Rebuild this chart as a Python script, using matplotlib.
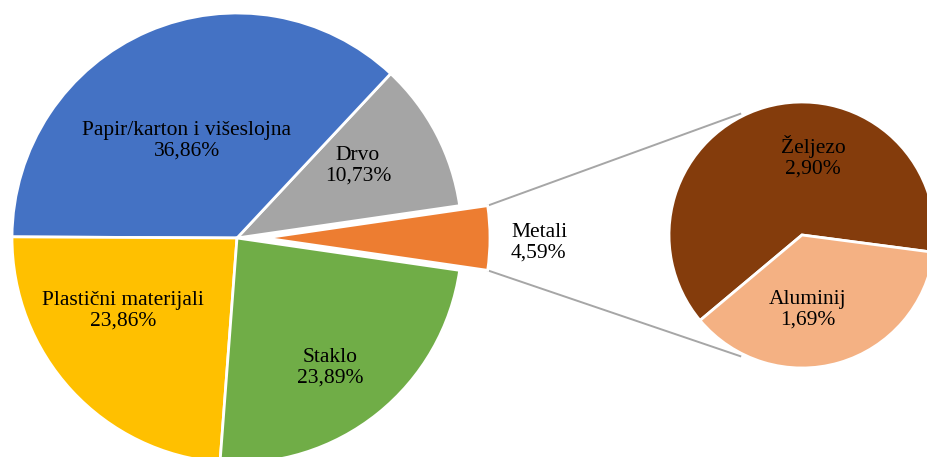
import numpy as np
import matplotlib.pyplot as plt

plt.rcParams['font.family'] = ['Liberation Serif', 'DejaVu Serif']

# main pie, counterclockwise starting with the split-off slice
main_labels = ['Metali', 'Drvo', 'Papir/karton i višeslojna', 'Plastični materijali', 'Staklo']
main_values = [4.59, 10.73, 36.86, 23.86, 23.89]
main_colors = ['#ED7D31', '#A5A5A5', '#4472C4', '#FFC000', '#70AD47']

# second pie (breakdown of Metali)
sub_labels = ['Željezo', 'Aluminij']
sub_values = [2.90, 1.69]
sub_colors = ['#843C0C', '#F4B183']

W, H = 927, 457
fig = plt.figure(figsize=(W / 100, H / 100), dpi=100)
ax = fig.add_axes([0, 0, 1, 1])

main_c = (237, H - 238)
main_r = 225
sub_c = (802, H - 235)
sub_r = 133

start = -main_values[0] / sum(main_values) * 360 / 2
wedges, _ = ax.pie(main_values, colors=main_colors, center=main_c, radius=main_r,
                   startangle=start, counterclock=True,
                   explode=[28, 0, 0, 0, 0],
                   wedgeprops=dict(edgecolor='white', linewidth=2))

sub_wedges, _ = ax.pie(sub_values, colors=sub_colors, center=sub_c, radius=sub_r,
                       startangle=-7.5, counterclock=True,
                       wedgeprops=dict(edgecolor='white', linewidth=2))

# connector lines from the split slice to the second pie
w = wedges[0]
for th, th2 in [(w.theta2, 117), (w.theta1, -117)]:
    x0 = w.center[0] + w.r * np.cos(np.radians(th))
    y0 = w.center[1] + w.r * np.sin(np.radians(th))
    x1 = sub_c[0] + (sub_r + 3) * np.cos(np.radians(th2))
    y1 = sub_c[1] + (sub_r + 3) * np.sin(np.radians(th2))
    ax.plot([x0, x1], [y0, y1], color='#A6A6A6', lw=1.4, zorder=0)

fs = 15.5
# label centres (image pixels)
main_pos = [(511, 243), (358, 166), (187, 141), (123, 311), (330, 368)]
for lab, val, (px, py), i in zip(main_labels, main_values, main_pos, range(5)):
    txt = f'{lab}\n{val:.2f}%'.replace('.', ',')
    ha = 'left' if i == 0 else 'center'
    ax.text(px, H - py, txt, ha=ha, va='center', fontsize=fs, linespacing=1.12,
            multialignment='left' if i == 0 else 'center')

sub_pos = [(813, 157), (808, 310)]
for lab, val, (px, py) in zip(sub_labels, sub_values, sub_pos):
    txt = f'{lab}\n{val:.2f}%'.replace('.', ',')
    ax.text(px, H - py, txt, ha='center', va='center', fontsize=fs, linespacing=1.12)

ax.set_xlim(0, W)
ax.set_ylim(0, H)
ax.set_aspect('equal')
ax.axis('off')

fig.savefig('out.png', dpi=100)
